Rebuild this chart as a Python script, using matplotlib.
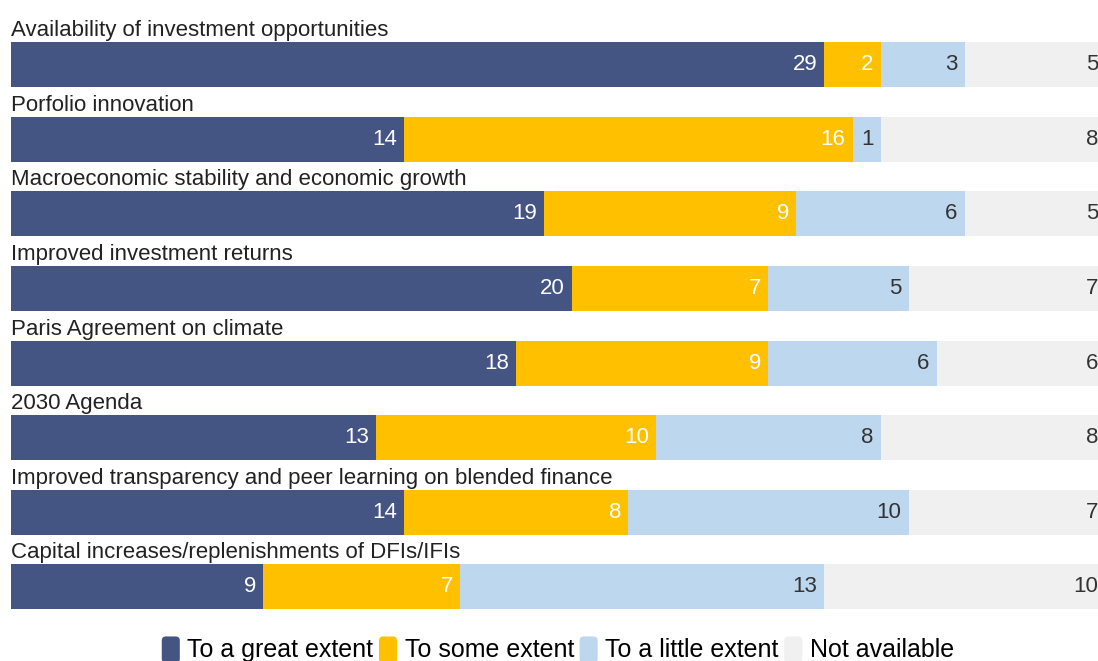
import matplotlib.pyplot as plt
import numpy as np
from matplotlib.patches import FancyBboxPatch, Patch
from matplotlib.legend_handler import HandlerPatch

plt.rcParams['font.family'] = ['Liberation Sans', 'DejaVu Sans']

# drivers and survey answers per category
drivers = [
    "Availability of investment opportunities",
    "Porfolio innovation",
    "Macroeconomic stability and economic growth",
    "Improved investment returns",
    "Paris Agreement on climate",
    "2030 Agenda",
    "Improved transparency and peer learning on blended finance",
    "Capital increases/replenishments of DFIs/IFIs",
]
great = [29, 14, 19, 20, 18, 13, 14, 9]
some = [2, 16, 9, 7, 9, 10, 8, 7]
little = [3, 1, 6, 5, 6, 8, 10, 13]
not_avail = [5, 8, 5, 7, 6, 8, 7, 10]

series = [
    ("To a great extent", great, "#445584", "white"),
    ("To some extent", some, "#FFC000", "white"),
    ("To a little extent", little, "#BDD7EE", "#333333"),
    ("Not available", not_avail, "#F0F0F0", "#333333"),
]

fig = plt.figure(figsize=(10.98, 6.61), dpi=100)
ax = fig.add_axes([11 / 1098, 0.0669, 1 - 11 / 1098, 0.9815 - 0.0669])

y = np.arange(len(drivers))
left = np.zeros(len(drivers))
unit_px = 28.05
for name, vals, color, tcolor in series:
    vals = np.array(vals)
    ax.barh(y, vals, left=left, height=0.603, color=color)
    ends = left + vals
    for yi, e, v in zip(y, ends, vals):
        ax.annotate(str(v), (e, yi), xytext=(-7, 0), textcoords='offset pixels',
                    ha='right', va='center', color=tcolor, fontsize=16,
                    annotation_clip=False)
    left = ends

for yi, d in zip(y, drivers):
    ax.text(0, yi - 0.455, d, ha='left', va='center', fontsize=16, color='#222222')

ax.set_xlim(0, (1098 - 11) / unit_px)
ax.set_ylim(7.4, -0.7)
ax.axis('off')


# small rounded swatches in the legend
class RoundHandler(HandlerPatch):
    def create_artists(self, legend, orig_handle, xdescent, ydescent,
                       width, height, fontsize, trans):
        w, h = 13, 19
        p = FancyBboxPatch((width - w - xdescent, -ydescent + (height - h) / 2 - 1), w, h,
                           boxstyle="round,pad=0,rounding_size=3",
                           facecolor=orig_handle.get_facecolor(), edgecolor='none',
                           transform=trans)
        return [p]


handles = [Patch(facecolor=c, label=n) for n, _, c, _ in series]
fig.legend(handles=handles, loc='center', bbox_to_anchor=(560 / 1098, 1 - 650 / 661),
           ncol=4, frameon=False, fontsize=18, handlelength=0.55, handletextpad=0.3,
           columnspacing=0.4, handler_map={Patch: RoundHandler()})

fig.savefig('out.png', dpi=100, facecolor='white')
